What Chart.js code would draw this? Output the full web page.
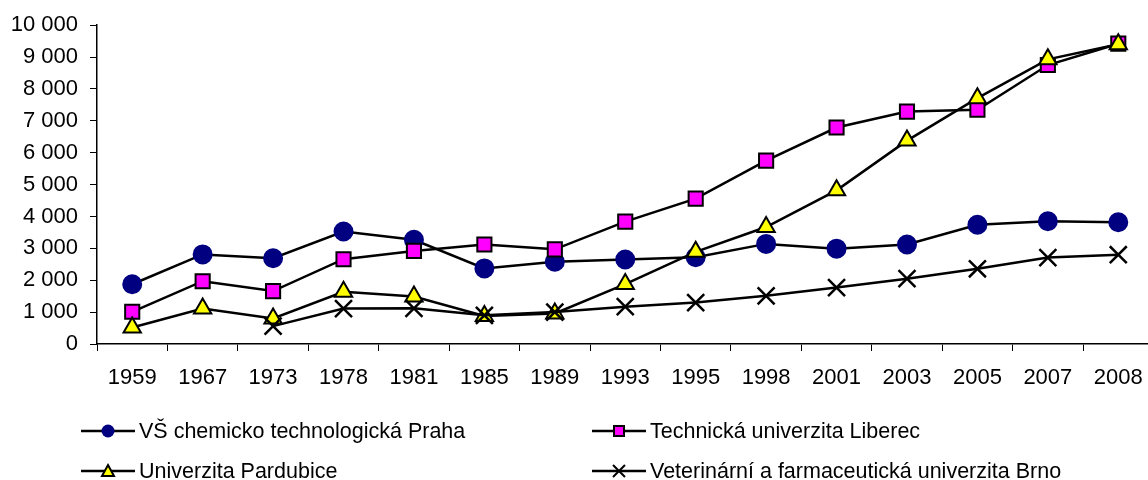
<!DOCTYPE html>
<html>
<head>
<meta charset="utf-8">
<script src="https://cdn.jsdelivr.net/npm/chart.js@4.4.0/dist/chart.umd.min.js"></script>
<style>
  html, body { margin: 0; padding: 0; background: #fff; }
  #wrap { width: 1148px; height: 480px; overflow: hidden; position: relative; }
  #c { position: absolute; left: 0; top: 0; }
</style>
</head>
<body>
<div id="wrap"><canvas id="c" width="1168" height="480"></canvas></div>
<script>
// years on the x axis
const years = ['1959','1967','1973','1978','1981','1985','1989','1993','1995','1998','2001','2003','2005','2007','2008'];

const names = [
  'VŠ chemicko technologická Praha',
  'Technická univerzita Liberec',
  'Univerzita Pardubice',
  'Veterinární a farmaceutická univerzita Brno'
];

// values
const vscht     = [1875, 2810, 2690, 3530, 3270, 2370, 2580, 2650, 2720, 3140, 2990, 3120, 3740, 3850, 3820];
const liberec   = [1010, 1970, 1660, 2660, 2920, 3120, 2970, 3840, 4560, 5750, 6790, 7290, 7350, 8750, 9420];
const pardubice = [520, 1110, 800, 1640, 1490, 880, 960, 1880, 2890, 3670, 4820, 6380, 7710, 8930, 9400];
const brno      = [null, null, 560, 1110, 1120, 900, 1000, 1170, 1300, 1510, 1770, 2050, 2360, 2710, 2800];

const yTicks = [0, 1000, 2000, 3000, 4000, 5000, 6000, 7000, 8000, 9000, 10000];

const FONT = 'Arial, "Liberation Sans", sans-serif';

function fmt(v) {
  return String(v).replace(/\B(?=(\d{3})+(?!\d))/g, ' ');
}

// little legend under the plot: line through a marker, like the original
const legendPlugin = {
  id: 'lineLegend',
  afterDraw(chart) {
    const ctx = chart.ctx;
    const spots = [[81, 431], [592, 431], [81, 471], [592, 471]];
    ctx.save();
    chart.data.datasets.forEach((ds, i) => {
      const [x, y] = spots[i];
      ctx.strokeStyle = '#000';
      ctx.lineWidth = 2.5;
      ctx.beginPath();
      ctx.moveTo(x, y);
      ctx.lineTo(x + 54, y);
      ctx.stroke();
      const mx = x + 27;
      ctx.lineWidth = 2;
      if (ds.pointStyle === 'circle') {
        ctx.fillStyle = ds.pointBackgroundColor;
        ctx.beginPath();
        ctx.arc(mx, y, 6.5, 0, Math.PI * 2);
        ctx.fill();
      } else if (ds.pointStyle === 'rect') {
        ctx.fillStyle = ds.pointBackgroundColor;
        ctx.fillRect(mx - 5, y - 5, 10, 10);
        ctx.strokeRect(mx - 5, y - 5, 10, 10);
      } else if (ds.pointStyle === 'triangle') {
        ctx.fillStyle = ds.pointBackgroundColor;
        ctx.beginPath();
        ctx.moveTo(mx, y - 6);
        ctx.lineTo(mx + 6, y + 5);
        ctx.lineTo(mx - 6, y + 5);
        ctx.closePath();
        ctx.fill();
        ctx.stroke();
      } else {
        ctx.beginPath();
        ctx.moveTo(mx - 6, y - 6); ctx.lineTo(mx + 6, y + 6);
        ctx.moveTo(mx + 6, y - 6); ctx.lineTo(mx - 6, y + 6);
        ctx.stroke();
      }
      ctx.fillStyle = '#000';
      ctx.font = '21.5px ' + FONT;
      ctx.textBaseline = 'middle';
      ctx.fillText(ds.label, x + 58, y + 1);
    });
    ctx.restore();
  }
};

function series(label, data, style, fill, border, radius, order) {
  return {
    label: label,
    data: data,
    borderColor: '#000',
    borderWidth: 2.5,
    pointStyle: style,
    pointRadius: radius,
    pointBackgroundColor: fill,
    pointBorderColor: border,
    pointBorderWidth: style === 'crossRot' ? 2.5 : 2,
    tension: 0,
    order: order
  };
}

new Chart(document.getElementById('c'), {
  type: 'line',
  data: {
    labels: years,
    datasets: [
      series(names[0], vscht, 'circle', '#000080', '#000080', 9, 3),
      series(names[1], liberec, 'rect', '#FF00FF', '#000', 10, 2),
      series(names[2], pardubice, 'triangle', '#FFFF00', '#000', 10, 1),
      series(names[3], brno, 'crossRot', '#000', '#000', 12, 0)
    ]
  },
  options: {
    responsive: false,
    animation: false,
    devicePixelRatio: 1,
    layout: { padding: { top: 24, right: 7, left: 0, bottom: 0 } },
    plugins: { legend: { display: false }, tooltip: { enabled: false } },
    scales: {
      x: {
        offset: true,
        grid: { offset: true, drawOnChartArea: false, tickLength: 7, color: '#000', tickWidth: 1 },
        border: { color: '#000', width: 1.5 },
        ticks: { color: '#000', font: { family: FONT, size: 22 }, padding: 14, maxRotation: 0, autoSkip: false },
        afterFit(scale) { scale.height = 136; }
      },
      y: {
        min: 0,
        max: 10000,
        afterBuildTicks(scale) { scale.ticks = yTicks.map(v => ({ value: v })); },
        grid: { drawOnChartArea: false, tickLength: 7, color: '#000', tickWidth: 1 },
        border: { color: '#000', width: 1.5 },
        ticks: { color: '#000', font: { family: FONT, size: 22 }, padding: 12, callback: v => fmt(v) },
        afterFit(scale) { scale.width = 97; }
      }
    }
  },
  plugins: [legendPlugin]
});
</script>
</body>
</html>
